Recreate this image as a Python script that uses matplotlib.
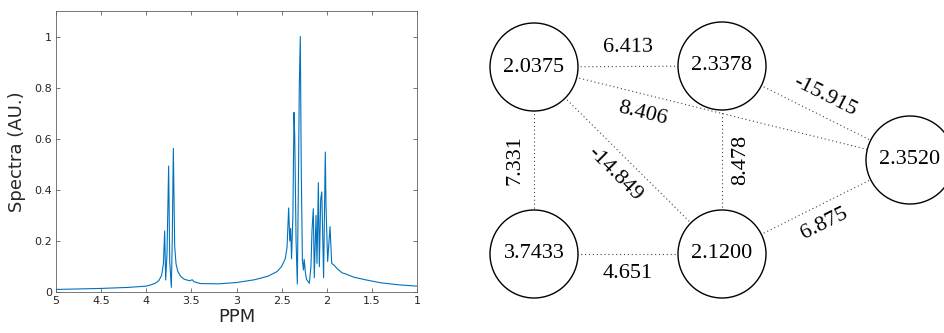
import numpy as np
import matplotlib.pyplot as plt
from matplotlib.patches import Circle
from math import atan2, degrees, hypot

# 1H NMR spectrum, read as a polyline (ppm, normalised intensity)
ppm = [5.00, 4.50, 4.20, 4.00, 3.95, 3.90, 3.86, 3.83, 3.81, 3.796, 3.785,
       3.77, 3.752, 3.740, 3.722, 3.712, 3.700, 3.685, 3.67, 3.65, 3.62,
       3.58, 3.52, 3.49, 3.47, 3.42, 3.40, 3.20, 3.00, 2.80, 2.65, 2.55,
       2.50, 2.46, 2.44, 2.422, 2.410, 2.400, 2.390, 2.375, 2.363, 2.355,
       2.350, 2.340, 2.326, 2.315, 2.304, 2.293, 2.283, 2.270, 2.258,
       2.250, 2.238, 2.225, 2.193, 2.175, 2.163, 2.149, 2.138, 2.119,
       2.108, 2.093, 2.082, 2.067, 2.055, 2.035, 2.016, 2.008, 1.990,
       1.964, 1.945, 1.920, 1.880, 1.830, 1.80, 1.70, 1.56, 1.40, 1.20,
       1.00]
intensity = [0.010, 0.014, 0.018, 0.023, 0.028, 0.034, 0.045, 0.065, 0.110,
             0.239, 0.047, 0.150, 0.493, 0.120, 0.018, 0.200, 0.562, 0.180,
             0.110, 0.080, 0.062, 0.050, 0.044, 0.048, 0.040, 0.035, 0.033,
             0.032, 0.037, 0.048, 0.062, 0.080, 0.100, 0.130, 0.175, 0.329,
             0.200, 0.249, 0.130, 0.300, 0.703, 0.614, 0.480, 0.200, 0.031,
             0.400, 0.806, 1.000, 0.500, 0.125, 0.086, 0.128, 0.080, 0.050,
             0.034, 0.100, 0.243, 0.326, 0.056, 0.300, 0.112, 0.428, 0.099,
             0.364, 0.392, 0.056, 0.548, 0.334, 0.119, 0.256, 0.112, 0.105,
             0.090, 0.075, 0.072, 0.058, 0.047, 0.036, 0.028, 0.023]

x_ticks = [5, 4.5, 4, 3.5, 3, 2.5, 2, 1.5, 1]
y_ticks = [0, 0.2, 0.4, 0.6, 0.8, 1]

# chemical-shift graph: node values and weighted edges
node_values = [2.0375, 2.3378, 2.3520, 3.7433, 2.1200]
edges = [(0, 1), (0, 2), (0, 4), (0, 3), (1, 2), (1, 4), (4, 2), (3, 4)]
edge_weights = [6.413, 8.406, -14.849, 7.331, -15.915, 8.478, 6.875, 4.651]

# layout (figure pixels, y downwards)
node_pos = [(534, 67), (722, 66), (910, 160), (534, 254), (722, 254)]
label_side = [-1, 1, 1, 1, -1, -1, 1, 1]
label_t = [0.5, 0.3, 0.5, 0.5, 0.5, 0.5, 0.5, 0.5]

blue = '#0072BD'
axis_grey = '#606060'

fig = plt.figure(figsize=(9.45, 3.33), dpi=100)

ax = fig.add_axes([56 / 945, 1 - 292 / 333, 361 / 945, 281 / 333])
ax.plot(ppm, intensity, color=blue, lw=0.8)
ax.set_xlim(5, 1)
ax.set_ylim(0, 1.1)
ax.set_xticks(x_ticks)
ax.set_xticklabels([f'{v:g}' for v in x_ticks])
ax.set_yticks(y_ticks)
ax.set_yticklabels([f'{v:g}' for v in y_ticks])
ax.tick_params(direction='in', top=True, right=True, length=3, width=0.6,
               labelsize=8, colors=axis_grey, labelcolor='#262626', pad=3)
for sp in ax.spines.values():
    sp.set_color(axis_grey)
    sp.set_linewidth(0.6)
ax.set_xlabel('PPM', fontsize=13, color='#262626', labelpad=1)
ax.set_ylabel('Spectra (AU.)', fontsize=13, color='#262626', labelpad=6)

# graph panel in pixel coordinates
g = fig.add_axes([0, 0, 1, 1])
g.set_xlim(0, 945)
g.set_ylim(333, 0)
g.set_aspect('equal')
g.axis('off')

serif = 'Liberation Serif'
off = 19
for (i, j), w, side, t in zip(edges, edge_weights, label_side, label_t):
    x0, y0 = node_pos[i]
    x1, y1 = node_pos[j]
    g.plot([x0, x1], [y0, y1], color='#444444', lw=0.8,
           linestyle=(0, (1, 2.5)), zorder=1)
    dx, dy = x1 - x0, y1 - y0
    ang = -degrees(atan2(dy, dx))
    if ang <= -90:
        ang += 180
    elif ang > 90:
        ang -= 180
    n = hypot(dx, dy)
    nx, ny = -dy / n, dx / n
    if ny < 0 or (ny == 0 and nx > 0):
        nx, ny = -nx, -ny
    lx = x0 + t * dx + side * off * nx
    ly = y0 + t * dy + side * off * ny
    g.text(lx, ly, f'{w:.3f}', rotation=ang, rotation_mode='anchor',
           ha='center', va='center', fontsize=16, family=serif)

for (cx, cy), v in zip(node_pos, node_values):
    g.add_patch(Circle((cx, cy), 44, facecolor='white', edgecolor='black',
                       lw=1.0, zorder=2))
    g.text(cx, cy, f'{v:.4f}', ha='center', va='center', fontsize=16,
           family=serif, zorder=3)

fig.savefig('out.png', dpi=100)
